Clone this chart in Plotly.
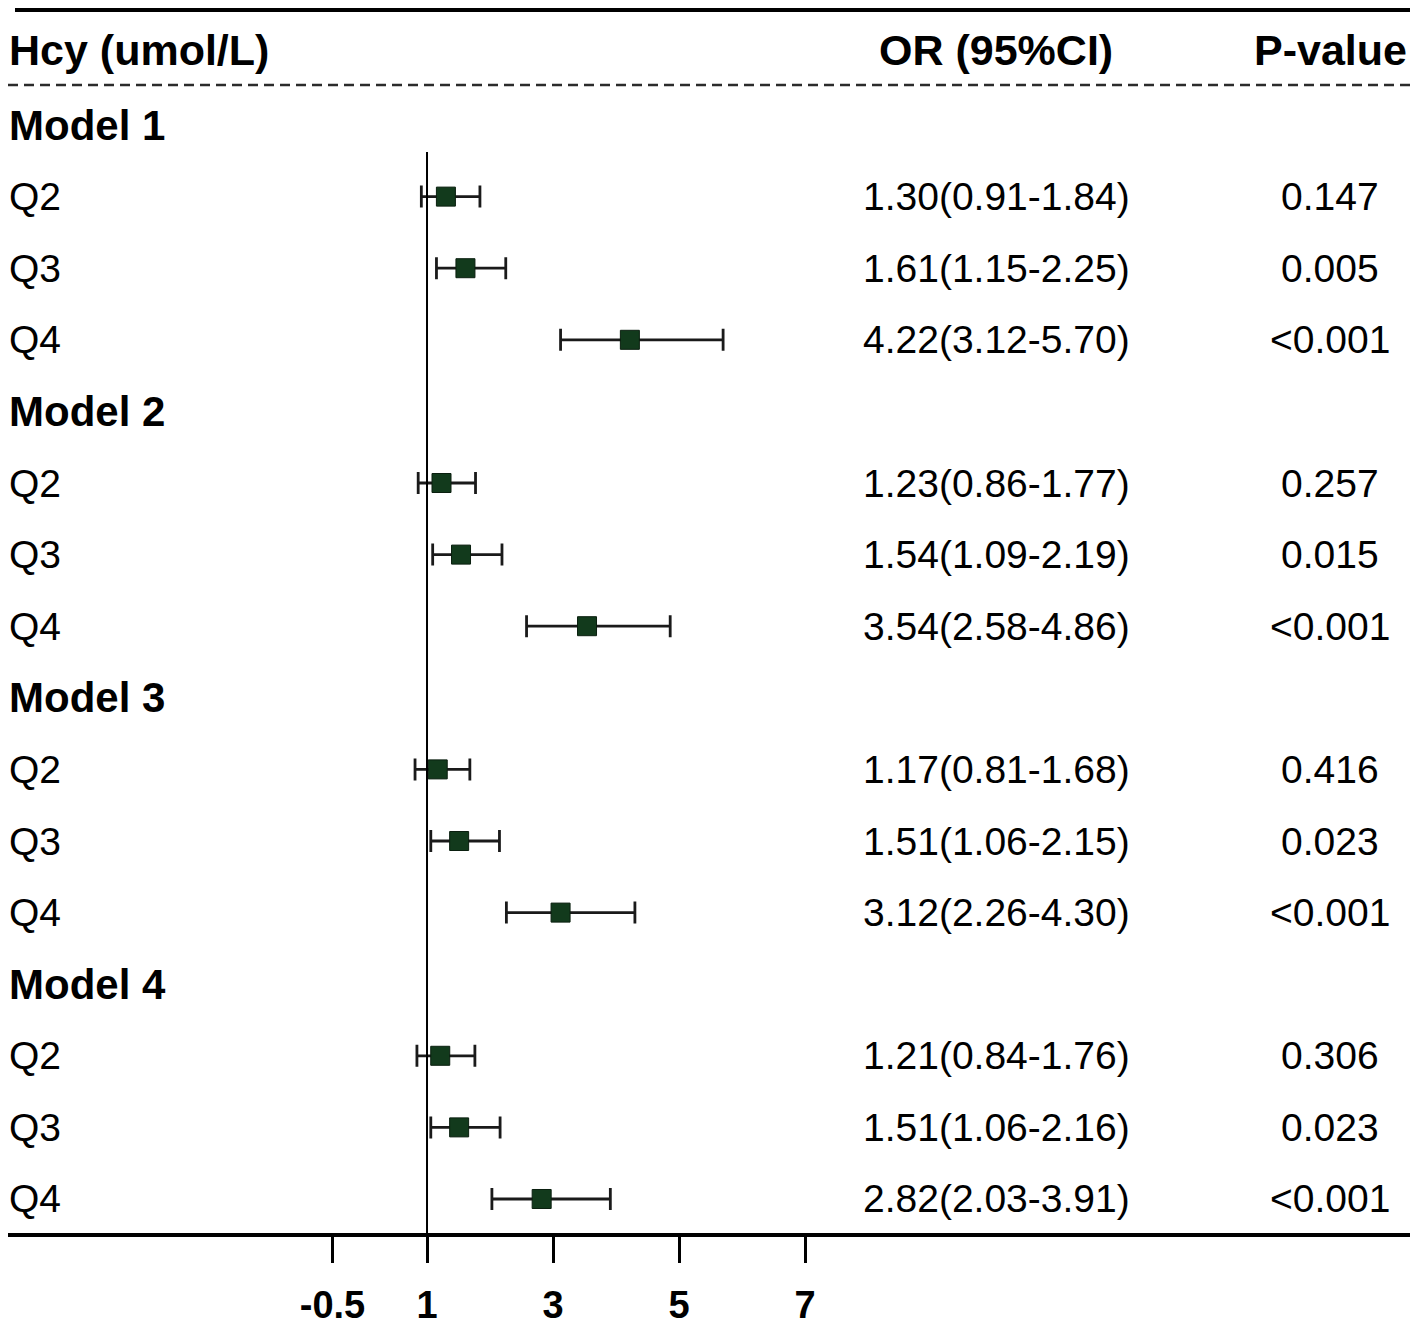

# forest plot: Hcy quartiles vs outcome, four adjusted models
import plotly.graph_objects as go

# data
models = ['Model 1', 'Model 2', 'Model 3', 'Model 4']
quartiles = ['Q2', 'Q3', 'Q4']

odds = [1.30, 1.61, 4.22,
        1.23, 1.54, 3.54,
        1.17, 1.51, 3.12,
        1.21, 1.51, 2.82]
lower = [0.91, 1.15, 3.12,
         0.86, 1.09, 2.58,
         0.81, 1.06, 2.26,
         0.84, 1.06, 2.03]
upper = [1.84, 2.25, 5.70,
         1.77, 2.19, 4.86,
         1.68, 2.15, 4.30,
         1.76, 2.16, 3.91]
pvals = ['0.147', '0.005', '<0.001',
         '0.257', '0.015', '<0.001',
         '0.416', '0.023', '<0.001',
         '0.306', '0.023', '<0.001']

tickvals = [-0.5, 1, 3, 5, 7]
ticktext = ['-0.5', '1', '3', '5', '7']

# headers
col_left = 'Hcy (umol/L)'
col_or = 'OR (95%CI)'
col_p = 'P-value'

FONT = 'Liberation Sans, Arial, sans-serif'
W, H = 1418, 1325
AXIS_Y = 1233  # px from top where the x axis sits

# row layout: header is row 0, then model heading + 3 quartile rows per model
rows_y = []
model_y = []
r = 1
for m in models:
    model_y.append(r)
    r += 1
    for q in quartiles:
        rows_y.append(r)
        r += 1

# y range so rows land where the picture has them (~71.6px per row)
y_top = -0.746
y_bottom = 16.475
# x range (value 1 at ~427px, ~63px per unit)
x_left = -5.651
x_right = 16.603

fig = go.Figure()

fig.add_trace(go.Scatter(
    x=odds, y=rows_y, mode='markers',
    marker=dict(symbol='square', size=19, color='#123a1c',
                line=dict(color='#0a1f0f', width=1)),
    error_x=dict(type='data', symmetric=False,
                 array=[u - o for u, o in zip(upper, odds)],
                 arrayminus=[o - l for o, l in zip(odds, lower)],
                 color='#1a1a1a', thickness=2.8, width=11),
    showlegend=False, hoverinfo='skip'))

x_lab = 7 / W
x_or = 996 / W
x_p = 1330 / W

ann = []
# headers
ann.append(dict(x=x_lab, y=-0.047, text='<b>' + col_left + '</b>', xanchor='left', font=dict(size=43)))
ann.append(dict(x=x_or, y=-0.047, text='<b>' + col_or + '</b>', xanchor='center', font=dict(size=43)))
ann.append(dict(x=x_p, y=-0.047, text='<b>' + col_p + '</b>', xanchor='center', font=dict(size=43)))

for m, y in zip(models, model_y):
    ann.append(dict(x=x_lab, y=y, text='<b>' + m + '</b>', xanchor='left', font=dict(size=42)))

for i, y in enumerate(rows_y):
    ann.append(dict(x=x_lab, y=y, text=quartiles[i % 3], xanchor='left', font=dict(size=39)))
    ann.append(dict(x=x_or, y=y, text='%.2f(%.2f-%.2f)' % (odds[i], lower[i], upper[i]),
                    xanchor='center', font=dict(size=39)))
    ann.append(dict(x=x_p, y=y, text=pvals[i], xanchor='center', font=dict(size=39)))

for a in ann:
    a['xref'] = 'paper'
    a['yref'] = 'y'
    a['showarrow'] = False
    a['yanchor'] = 'middle'
    a['font']['family'] = FONT
    a['font']['color'] = 'black'

shapes = [
    # thick rule on top
    dict(type='line', xref='paper', yref='y', x0=15 / W, x1=1410 / W, y0=-0.606, y1=-0.606,
         line=dict(color='black', width=4)),
    # dashed rule under the header
    dict(type='line', xref='paper', yref='y', x0=8 / W, x1=1410 / W, y0=0.441, y1=0.441,
         line=dict(color='#2b2b2b', width=2.5, dash='10px,6px')),
    # reference line at OR = 1
    dict(type='line', xref='x', yref='y', x0=1, x1=1, y0=1.377, y1=y_bottom,
         line=dict(color='black', width=2)),
]

fig.update_layout(
    width=W, height=H,
    margin=dict(l=0, r=0, t=0, b=H - AXIS_Y, pad=0),
    plot_bgcolor='white', paper_bgcolor='white',
    font=dict(family=FONT, color='black'),
    annotations=ann, shapes=shapes,
    xaxis=dict(domain=[8 / W, 1410 / W], range=[x_left, x_right],
               tickvals=tickvals, ticktext=['<b>' + t + '</b>' for t in ticktext],
               ticks='outside', ticklen=26, tickwidth=3, tickcolor='black',
               ticklabelstandoff=9, automargin=False,
               tickfont=dict(size=38, family=FONT, color='black'),
               showline=True, linecolor='black', linewidth=4,
               showgrid=False, zeroline=False, fixedrange=True),
    yaxis=dict(range=[y_bottom, y_top], visible=False, showgrid=False,
               zeroline=False, fixedrange=True, automargin=False),
)

# drop the default body margin so the figure fills the window exactly
fig.write_html('out.html', config={'displayModeBar': False},
               post_script="document.body.style.margin='0';")
